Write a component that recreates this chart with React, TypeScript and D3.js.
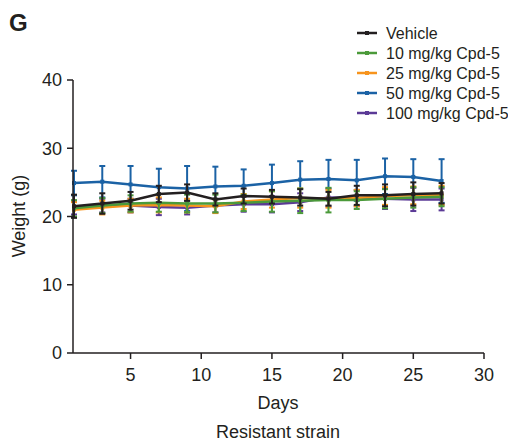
import React from "react";
import * as d3 from "d3";

const days = [1, 3, 5, 7, 9, 11, 13, 15, 17, 19, 21, 23, 25, 27];
const seriesNames = ["Vehicle", "10 mg/kg Cpd-5", "25 mg/kg Cpd-5", "50 mg/kg Cpd-5", "100 mg/kg Cpd-5"];
const seriesColors = ["#231f20", "#4b9a3a", "#f7941d", "#1b62a5", "#5b3a96"];

const vehicleMean = [21.5, 21.9, 22.3, 23.3, 23.5, 22.5, 23.0, 22.9, 22.8, 22.6, 23.1, 23.1, 23.3, 23.4];
const vehicleErr = [1.7, 1.5, 1.3, 1.2, 1.2, 0.9, 1.1, 1.0, 1.2, 1.0, 1.4, 1.6, 1.7, 1.5];
const dose10Mean = [21.2, 21.6, 21.9, 22.0, 21.9, 21.9, 22.0, 22.2, 22.3, 22.4, 22.4, 22.6, 22.8, 22.9];
const dose10Err = [1.2, 1.1, 1.2, 1.3, 1.3, 1.3, 1.2, 1.5, 1.8, 1.8, 1.3, 1.4, 1.5, 1.4];
const dose25Mean = [21.0, 21.3, 21.6, 21.7, 21.6, 21.5, 22.2, 22.5, 22.7, 22.6, 22.7, 23.0, 23.1, 23.1];
const dose25Err = [1.1, 1.0, 1.0, 1.1, 1.0, 1.0, 1.1, 1.2, 1.4, 1.3, 1.2, 1.3, 1.3, 1.4];
const dose50Mean = [24.9, 25.1, 24.7, 24.3, 24.1, 24.4, 24.5, 24.9, 25.4, 25.5, 25.3, 25.9, 25.8, 25.2];
const dose50Err = [1.8, 2.3, 2.7, 2.7, 3.3, 2.9, 2.4, 2.7, 2.7, 2.8, 3.0, 2.6, 2.6, 3.2];
const dose100Mean = [21.3, 21.6, 21.6, 21.4, 21.3, 21.6, 21.8, 21.8, 22.1, 22.8, 22.7, 22.6, 22.5, 22.5];
const dose100Err = [1.0, 1.0, 1.0, 1.2, 1.0, 1.0, 1.1, 1.2, 1.3, 1.3, 1.2, 1.5, 1.7, 1.6];

const xTicks = [5, 10, 15, 20, 25, 30];
const yTicks = [0, 10, 20, 30, 40];

const FONT = "'Liberation Sans', Arial, Helvetica, sans-serif";

export default function App() {
  const W = 508, H = 444;
  const x = d3.scaleLinear().domain([1, 30]).range([74, 484]);
  const y = d3.scaleLinear().domain([0, 40]).range([353, 80]);

  const series = [
    { name: seriesNames[0], color: seriesColors[0], mean: vehicleMean, err: vehicleErr },
    { name: seriesNames[1], color: seriesColors[1], mean: dose10Mean, err: dose10Err },
    { name: seriesNames[2], color: seriesColors[2], mean: dose25Mean, err: dose25Err },
    { name: seriesNames[3], color: seriesColors[3], mean: dose50Mean, err: dose50Err },
    { name: seriesNames[4], color: seriesColors[4], mean: dose100Mean, err: dose100Err },
  ];
  const drawOrder = [3, 4, 2, 1, 0];

  const line = d3.line<[number, number]>().x(d => x(d[0])).y(d => y(d[1]));

  return (
    <svg width={W} height={H} style={{ position: "absolute", left: 0, top: 0, fontFamily: FONT }}>
      <rect width={W} height={H} fill="#fff" />
      <text x={9} y={30.5} fontSize={24} fontWeight="bold" fill="#231f20">G</text>

      {/* series */}
      {drawOrder.map(i => {
        const s = series[i];
        const pts = days.map((d, j) => [d, s.mean[j]] as [number, number]);
        return (
          <g key={s.name}>
            {days.map((d, j) => {
              const cx = x(d);
              const yt = y(s.mean[j] + s.err[j]);
              const yb = y(s.mean[j] - s.err[j]);
              return (
                <g key={j} stroke={s.color} strokeWidth={2}>
                  <line x1={cx} x2={cx} y1={yt} y2={yb} />
                  <line x1={cx - 3} x2={cx + 3} y1={yt} y2={yt} />
                  <line x1={cx - 3} x2={cx + 3} y1={yb} y2={yb} />
                </g>
              );
            })}
            <path d={line(pts) || ""} fill="none" stroke={s.color} strokeWidth={2.5} />
            {pts.map((p, j) => (
              <rect key={j} x={x(p[0]) - 2} y={y(p[1]) - 2} width={4} height={4} fill={s.color} />
            ))}
          </g>
        );
      })}

      {/* axes */}
      <g stroke="#231f20" strokeWidth={1.5}>
        <line x1={73} x2={73} y1={y(40)} y2={y(0)} />
        {yTicks.map(t => (
          <line key={t} x1={67} x2={73} y1={y(t)} y2={y(t)} />
        ))}
        <line x1={73} x2={x(30)} y1={353} y2={353} />
        {xTicks.map(t => (
          <line key={t} x1={x(t)} x2={x(t)} y1={353} y2={359} />
        ))}
      </g>
      {yTicks.map(t => (
        <text key={t} x={62} y={y(t)} dy="0.35em" textAnchor="end" fontSize={18} fill="#231f20">{t}</text>
      ))}
      {xTicks.map(t => (
        <text key={t} x={x(t)} y={375} dy="0.35em" textAnchor="middle" fontSize={18} fill="#231f20">{t}</text>
      ))}
      <text x={278} y={403} dy="0.35em" textAnchor="middle" fontSize={18} fill="#231f20">Days</text>
      <text x={278} y={432} dy="0.35em" textAnchor="middle" fontSize={18} fill="#231f20">Resistant strain</text>
      <text transform={`translate(19,216) rotate(-90)`} dy="0.35em" textAnchor="middle" fontSize={18} fill="#231f20">Weight (g)</text>

      {/* legend */}
      {series.map((s, i) => {
        const ly = 33 + i * 20;
        return (
          <g key={s.name}>
            <line x1={357} x2={377} y1={ly} y2={ly} stroke={s.color} strokeWidth={2.5} />
            <rect x={365} y={ly - 2} width={4} height={4} fill={s.color} />
            <text x={386} y={ly} dy="0.35em" fontSize={16} fill="#231f20">{s.name}</text>
          </g>
        );
      })}
    </svg>
  );
}
